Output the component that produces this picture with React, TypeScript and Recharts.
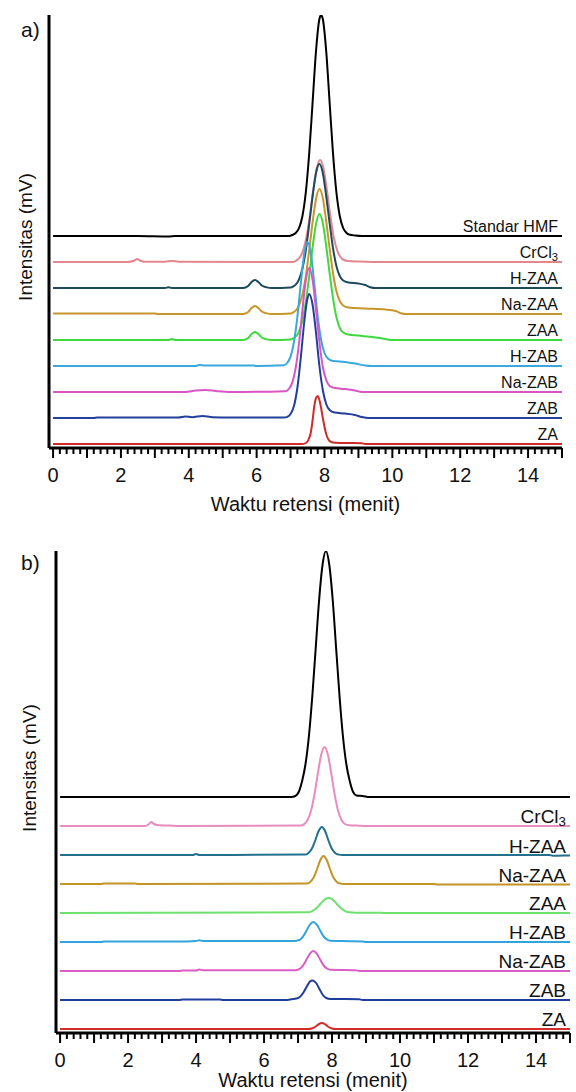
import { LineChart, Line, XAxis, YAxis, LabelList } from 'recharts';

// nama sampel (dari atas ke bawah)
const names = ['Standar HMF', 'CrCl3', 'H-ZAA', 'Na-ZAA', 'ZAA', 'H-ZAB', 'Na-ZAB', 'ZAB', 'ZA'];

const colorsA = ['#000000', '#e4868f', '#1d4a5c', '#c8952a', '#3fd93f', '#37a9dc', '#d955c4', '#233f9c', '#d12a2a'];
const colorsB = ['#000000', '#e88cbf', '#236f8e', '#c39326', '#6ee06e', '#31a4dc', '#dc5dc5', '#1f3d9a', '#d62b2b'];

type Pt = [number, number];

// ---- a) kromatogram ----
const hmfA: Pt[] = [[0, 0], [2.5, 0], [3.4, -0.5], [3.6, 0], [6.95, 0], [7.05, 1], [7.15, 3], [7.25, 8], [7.35, 20], [7.45, 44], [7.55, 83], [7.65, 134], [7.75, 185], [7.85, 217], [7.9, 221], [7.95, 217], [8.05, 185], [8.15, 134], [8.25, 83], [8.35, 44], [8.45, 20], [8.55, 8], [8.65, 3], [8.75, 1.2], [8.9, 0.5], [9.1, 0], [15, 0]];
const crA: Pt[] = [[0, 0], [2.2, 0], [2.4, 1.5], [2.48, 3], [2.56, 1.5], [2.7, 0.3], [3.3, 0.3], [3.5, 1], [3.7, 0.3], [7.07, 0], [7.17, 1.5], [7.27, 4.5], [7.37, 11.6], [7.47, 25.4], [7.57, 46.7], [7.67, 72], [7.77, 93.5], [7.87, 102], [7.97, 93.5], [8.07, 72], [8.17, 46.7], [8.27, 25.4], [8.37, 12], [8.47, 5], [8.57, 2], [8.7, 1], [9.0, 0.5], [9.5, 0], [15, 0]];
const hzaaA: Pt[] = [[0, 0], [3.3, 0], [3.4, 0.8], [3.5, 0], [5.6, 0], [5.75, 2], [5.85, 6], [5.95, 8], [6.05, 6], [6.15, 2.5], [6.3, 0.6], [6.45, 0], [7.0, 0.5], [7.05, 1.1], [7.15, 3.3], [7.25, 8.7], [7.35, 19.5], [7.45, 38], [7.55, 64], [7.65, 92], [7.75, 115], [7.85, 124], [7.95, 115], [8.05, 92], [8.15, 65], [8.25, 40], [8.35, 22], [8.45, 12], [8.55, 7.5], [8.7, 5.5], [9.0, 4.5], [9.2, 3], [9.35, 0.8], [9.5, 0], [15, 0]];
const nazaaA: Pt[] = [[0, 0.5], [3.0, 0.5], [3.1, 0], [5.6, 0], [5.75, 2], [5.85, 6], [5.95, 8], [6.05, 6], [6.15, 2.5], [6.3, 0.6], [6.45, 0], [7.0, 0.5], [7.05, 1.1], [7.15, 3.3], [7.25, 8.7], [7.35, 19.5], [7.45, 38], [7.55, 64], [7.65, 92], [7.75, 115], [7.85, 125], [7.95, 116], [8.05, 93], [8.15, 66], [8.25, 41], [8.35, 23], [8.45, 13], [8.55, 8.5], [8.7, 6.5], [9.2, 5.5], [9.8, 4.5], [10.1, 3], [10.25, 0.8], [10.4, 0], [15, 0]];
const zaaA: Pt[] = [[0, 0], [3.4, 0], [3.5, 1], [3.6, 0], [5.6, 0], [5.75, 2], [5.85, 6], [5.95, 8], [6.05, 6], [6.15, 2.5], [6.3, 0.6], [6.45, 0], [7.0, 0.5], [7.05, 1.1], [7.15, 3.3], [7.25, 8.7], [7.35, 19.5], [7.45, 38], [7.55, 64], [7.65, 93], [7.75, 116], [7.85, 126], [7.95, 117], [8.05, 94], [8.15, 67], [8.25, 42], [8.35, 23], [8.45, 12], [8.55, 7.5], [8.7, 5.5], [9.0, 4.5], [9.4, 3], [9.8, 1], [10.0, 0], [15, 0]];
const hzabA: Pt[] = [[0, 0], [4.2, 0], [4.3, 1], [4.5, 0.5], [5.9, 0.5], [6.0, 0], [6.8, 0.8], [6.9, 3], [7.0, 9.4], [7.1, 24], [7.2, 49], [7.3, 82], [7.4, 112], [7.5, 124], [7.6, 112], [7.7, 82], [7.8, 50], [7.9, 26], [8.0, 13], [8.1, 7.5], [8.25, 5], [8.6, 4], [8.9, 2.5], [9.2, 0.5], [9.4, 0], [15, 0]];
const nazabA: Pt[] = [[0, 0], [3.9, 0], [4.2, 1.5], [4.5, 2], [4.8, 1], [5.2, 0], [6.85, 0.8], [6.95, 3], [7.05, 9.4], [7.15, 24], [7.25, 49], [7.35, 82], [7.45, 112], [7.55, 124], [7.65, 112], [7.75, 82], [7.85, 50], [7.95, 25], [8.05, 12], [8.15, 6], [8.3, 4], [8.6, 3], [8.9, 1.5], [9.1, 0], [15, 0]];
const zabA: Pt[] = [[0, 0], [1.2, 0], [1.3, 0.5], [3.7, 0.5], [3.9, 1.5], [4.1, 0.8], [4.4, 2], [4.7, 0.8], [5.2, 0.5], [6.8, 0.5], [6.9, 1.2], [7.0, 4], [7.1, 12], [7.2, 30], [7.3, 60], [7.4, 95], [7.5, 120], [7.55, 124], [7.65, 113], [7.75, 85], [7.85, 52], [7.95, 28], [8.05, 14], [8.15, 8], [8.3, 5.5], [8.6, 4.5], [8.9, 3], [9.1, 1], [9.3, 0], [15, 0]];
const zaA: Pt[] = [[0, 0], [7.35, 0], [7.45, 1], [7.55, 6], [7.6, 12], [7.65, 24], [7.7, 38], [7.75, 46], [7.8, 48], [7.85, 44], [7.9, 36], [7.95, 26], [8.05, 10], [8.15, 3], [8.25, 1.5], [8.6, 1], [9.1, 0.8], [9.2, 0], [15, 0]];

// ---- b) kromatogram ----
const hmfB: Pt[] = [[0, 0], [6.8, 0], [6.92, 1], [7.02, 5], [7.12, 16], [7.22, 33], [7.32, 61], [7.42, 101], [7.52, 149], [7.62, 197], [7.72, 232], [7.82, 246], [7.92, 232], [8.02, 197], [8.12, 149], [8.22, 101], [8.32, 61], [8.42, 33], [8.52, 16], [8.62, 5], [8.72, 1.5], [8.9, 1], [9.1, 0], [15, 0]];
const crB: Pt[] = [[0, 0], [2.5, 0], [2.6, 1.5], [2.68, 4], [2.76, 2], [2.9, 0.8], [3.2, 0.5], [3.5, 0], [7.08, 0.5], [7.18, 1.9], [7.28, 6], [7.38, 15], [7.48, 31], [7.58, 52], [7.68, 71], [7.78, 79], [7.88, 71], [7.98, 52], [8.08, 31], [8.18, 15], [8.28, 6], [8.38, 2], [8.5, 0.8], [8.8, 0.3], [9.0, 0], [15, 0]];
const hzaaB: Pt[] = [[0, 0], [3.9, 0], [4.0, 1], [4.1, 0], [7.2, 0.4], [7.3, 1.8], [7.4, 5.9], [7.5, 14], [7.6, 23.5], [7.7, 28], [7.8, 23.5], [7.9, 14], [8.0, 5.9], [8.1, 1.8], [8.2, 0.4], [8.3, 0], [14.4, 0], [14.5, -0.8], [14.8, -0.5], [15, -0.5]];
const nazaaB: Pt[] = [[0, 0], [1.2, 0], [1.3, 0.5], [2.2, 0.5], [2.3, 0], [7.25, 0.4], [7.35, 1.8], [7.45, 5.9], [7.55, 14], [7.65, 23.5], [7.75, 28], [7.85, 23.5], [7.95, 14], [8.05, 5.9], [8.15, 1.8], [8.25, 0.4], [8.35, 0], [11.0, 0], [11.1, -0.5], [15, -0.5]];
const zaaB: Pt[] = [[0, 0], [7.3, 0.7], [7.4, 1.7], [7.5, 3.7], [7.6, 6.9], [7.7, 10.6], [7.8, 13.8], [7.9, 15], [8.0, 13.8], [8.1, 10.6], [8.2, 6.9], [8.3, 3.7], [8.4, 1.7], [8.5, 0.7], [8.7, 0.3], [9.4, 0.3], [9.5, 0], [15, 0]];
const hzabB: Pt[] = [[0, 0], [1.2, 0], [1.3, 0.5], [3.5, 0.5], [4.0, 1], [4.1, 1.8], [4.2, 1], [4.5, 1], [6.9, 1], [6.95, 1.3], [7.05, 2.2], [7.15, 5.7], [7.25, 11.5], [7.35, 17.4], [7.45, 20], [7.55, 17.4], [7.65, 11.5], [7.75, 5.7], [7.85, 2.5], [7.95, 1.2], [8.5, 0.8], [8.9, 0.5], [9.0, 0], [15, 0]];
const nazabB: Pt[] = [[0, 0], [3.5, 0], [3.6, 0.5], [4.0, 0.5], [4.1, 1.5], [4.2, 0.8], [6.9, 0.8], [7.05, 2.2], [7.15, 5.7], [7.25, 11.5], [7.35, 17.4], [7.45, 20], [7.55, 17.4], [7.65, 11.5], [7.75, 5.7], [7.85, 2.5], [7.95, 1.2], [8.7, 0.8], [8.8, 0], [15, 0]];
const zabB: Pt[] = [[0, 0], [3.5, 0], [3.6, 0.5], [4.7, 0.5], [4.8, 0], [6.7, 0], [6.8, 0.8], [6.95, 1.5], [7.05, 3], [7.15, 7], [7.25, 13], [7.35, 18.4], [7.43, 19.6], [7.53, 17], [7.63, 11], [7.73, 5], [7.83, 2], [7.95, 1], [8.8, 0.8], [8.9, 0], [15, 0]];
const zaB: Pt[] = [[0, 0], [7.3, 0], [7.4, 0.5], [7.5, 2], [7.6, 4.6], [7.7, 6], [7.8, 4.6], [7.9, 2], [8.0, 0.5], [8.1, 0], [15, 0]];

const seriesA = [hmfA, crA, hzaaA, nazaaA, zaaA, hzabA, nazabA, zabA, zaA];
const seriesB = [hmfB, crB, hzaaB, nazaaB, zaaB, hzabB, nazabB, zabB, zaB];

const xTickValues = Array.from({ length: 76 }, (_, i) => i / 5);

const FONT = 'Arial, "Liberation Sans", sans-serif';

function XTick(props: any) {
  const { x, y, payload } = props;
  const v = payload.value;
  const i = Math.round(v * 5);
  const major = i % 5 === 0;
  return (
    <g>
      <line x1={x} x2={x} y1={y} y2={y + (major ? 10 : 6)} stroke="#000" strokeWidth={2} />
      {i % 10 === 0 && (
        <text x={x} y={y + 34} textAnchor="middle" fontSize={20} fontFamily={FONT} fill="#111">
          {Math.round(v)}
        </text>
      )}
    </g>
  );
}

function makeLabel(name: string, count: number, size: number, dy: number) {
  return (props: any) => {
    const { x, y, index } = props;
    if (index !== count - 1) return null;
    if (name === 'CrCl3') {
      return (
        <text x={x - 4} y={y - dy} textAnchor="end" fontSize={size} fontFamily={FONT} fill="#111">
          <tspan>CrCl</tspan>
          <tspan fontSize={size * 0.7} dy={3}>3</tspan>
        </text>
      );
    }
    return (
      <text x={x - 4} y={y - dy} textAnchor="end" fontSize={size} fontFamily={FONT} fill="#111">
        {name}
      </text>
    );
  };
}

interface PanelProps {
  series: Pt[][];
  colors: string[];
  labelled: boolean[];
  height: number;
  top: number;
  right: number;
  yWidth: number;
  yMax: number;
  base: number;
  step: number;
  xAxisHeight: number;
  labelSize: number;
  labelDy: number;
  tag: string;
  tagX: number;
  tagY: number;
  titleY: number;
  yTitleX: number;
  yTitleY: number;
}

function Panel(p: PanelProps) {
  const cx = (p.yWidth + 576 - p.right) / 2;
  return (
    <LineChart width={576} height={p.height} margin={{ top: p.top, right: p.right, bottom: 0, left: 0 }}>
      <XAxis
        type="number"
        dataKey="x"
        domain={[-0.12, 15]}
        ticks={xTickValues}
        interval={0}
        allowDataOverflow
        height={p.xAxisHeight}
        axisLine={{ stroke: '#000', strokeWidth: 3 }}
        tickLine={false}
        tickSize={0}
        tickMargin={0}
        tick={<XTick />}
      />
      <YAxis
        type="number"
        domain={[0, p.yMax]}
        allowDataOverflow
        width={p.yWidth}
        tick={false}
        tickLine={false}
        axisLine={{ stroke: '#000', strokeWidth: 3 }}
      />
      {p.series.map((pts, k) => {
        const offset = p.base + (p.series.length - 1 - k) * p.step;
        const data = pts.map(([x, v]) => ({ x, y: v + offset }));
        return (
          <Line
            key={names[k]}
            data={data}
            dataKey="y"
            type="monotone"
            stroke={p.colors[k]}
            strokeWidth={2}
            dot={false}
            activeDot={false}
            isAnimationActive={false}
          >
            {p.labelled[k] && (
              <LabelList dataKey="y" content={makeLabel(names[k], data.length, p.labelSize, p.labelDy)} />
            )}
          </Line>
        );
      })}
      <text x={p.tagX} y={p.tagY} fontSize={21} fontFamily={FONT} fill="#111">{p.tag}</text>
      <text x={cx} y={p.titleY} textAnchor="middle" fontSize={20} fontFamily={FONT} fill="#111">
        Waktu retensi (menit)
      </text>
      <text
        x={p.yTitleX}
        y={p.yTitleY}
        textAnchor="middle"
        dominantBaseline="central"
        transform={`rotate(-90 ${p.yTitleX} ${p.yTitleY})`}
        fontSize={19}
        fontFamily={FONT}
        fill="#111"
      >
        Intensitas (mV)
      </text>
    </LineChart>
  );
}

const allLabelled = names.map(() => true);
const noStandardLabel = names.map((_, i) => i !== 0);

export default function App() {
  return (
    <div style={{ position: 'absolute', left: 0, top: 0, width: 576, height: 1092, background: '#fff', overflow: 'hidden' }}>
      <Panel
        series={seriesA}
        colors={colorsA}
        labelled={allLabelled}
        height={530}
        top={15}
        right={14}
        yWidth={49}
        yMax={433}
        base={4}
        step={26}
        xAxisHeight={82}
        labelSize={16}
        labelDy={4}
        tag="a)"
        tagX={21}
        tagY={37}
        titleY={511}
        yTitleX={25}
        yTitleY={237}
      />
      <Panel
        series={seriesB}
        colors={colorsB}
        labelled={noStandardLabel}
        height={562}
        top={21}
        right={6}
        yWidth={56}
        yMax={482}
        base={4}
        step={29}
        xAxisHeight={59}
        labelSize={19}
        labelDy={3}
        tag="b)"
        tagX={21}
        tagY={40}
        titleY={557}
        yTitleX={29}
        yTitleY={238}
      />
    </div>
  );
}
